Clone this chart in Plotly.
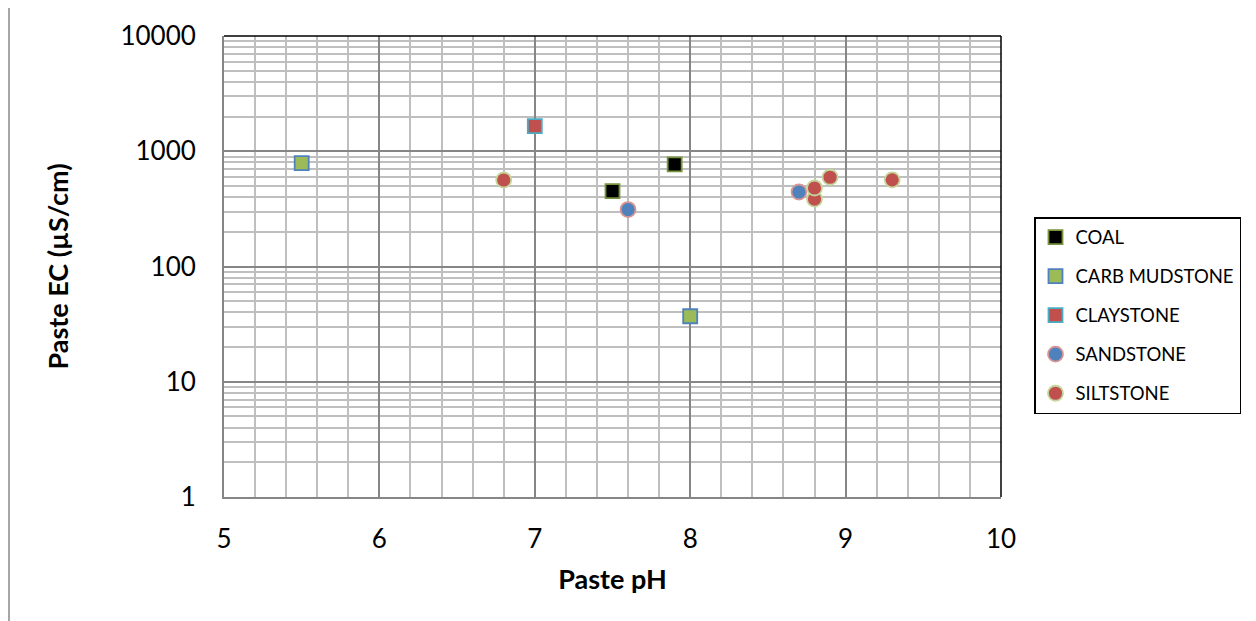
import plotly.graph_objects as go

# ---- data ----
coal_ph = [7.5, 7.9]
coal_ec = [450, 770]
carb_ph = [5.5, 8.0]
carb_ec = [790, 37]
clay_ph = [7.0]
clay_ec = [1650]
sand_ph = [7.6, 8.7]
sand_ec = [312, 443]
silt_ph = [6.8, 8.8, 8.8, 8.9, 9.3]
silt_ec = [563, 385, 480, 595, 565]

y_tickvals = [1, 10, 100, 1000, 10000]
y_ticktext = ["1", "10", "100", "1000", "10000"]
x_tickvals = [5, 6, 7, 8, 9, 10]

FONT = "Lato, 'Open Sans', sans-serif"

series = [
    ("COAL", coal_ph, coal_ec, "square", "#000000", "#77933C"),
    ("CARB MUDSTONE", carb_ph, carb_ec, "square", "#9BBB59", "#4F81BD"),
    ("CLAYSTONE", clay_ph, clay_ec, "square", "#C0504D", "#4BACC6"),
    ("SANDSTONE", sand_ph, sand_ec, "circle", "#4F81BD", "#D99694"),
    ("SILTSTONE", silt_ph, silt_ec, "circle", "#C0504D", "#C3D69B"),
]

fig = go.Figure()
for i, (name, xs, ys, sym, fill, edge) in enumerate(series):
    fig.add_trace(go.Scatter(
        x=xs, y=ys, mode="markers", name=name, legendgroup=f"g{i}",
        marker=dict(symbol=sym, size=14 if sym == "square" else 15,
                    color=fill, line=dict(color=edge, width=1.8)),
    ))

minor_y = [m * 10 ** k for k in range(4) for m in range(2, 10)]

# page body has an 8px offset; work in page coordinates minus 8
OFF = 8
W, H = 1248, 613
L, T = 224 - OFF, 36 - OFF
pw, ph = 777, 461
R, B = W - L - pw, H - T - ph


def px(xpage):
    return (xpage - OFF - L) / pw


def py(ypage):
    return (T + ph - (ypage - OFF)) / ph


fig.update_layout(
    width=W, height=H,
    margin=dict(l=L, r=R, t=T, b=B),
    paper_bgcolor="white", plot_bgcolor="white",
    font=dict(family=FONT, color="#000000"),
    showlegend=True,
    legend=dict(
        x=px(1034), y=py(217),
        xanchor="left", yanchor="top",
        bordercolor="#000000", borderwidth=1.5,
        font=dict(size=18.5, family=FONT, color="#000000"),
        tracegroupgap=12, itemwidth=30,
    ),
    xaxis=dict(
        range=[5, 10], tickvals=x_tickvals, ticks="",
        showgrid=True, gridcolor="#868686", gridwidth=1.5,
        minor=dict(dtick=0.2, showgrid=True, gridcolor="#BFBFBF", gridwidth=1.5),
        showline=True, linecolor="#868686", linewidth=2,
        zeroline=False,
        tickfont=dict(size=26, family=FONT),
        ticklabelstandoff=18,
        title=dict(text="<b>Paste pH</b>", font=dict(size=27, family=FONT), standoff=17),
    ),
    yaxis=dict(
        type="log", range=[0, 4], tickvals=y_tickvals, ticktext=y_ticktext, ticks="",
        showgrid=True, gridcolor="#868686", gridwidth=1.5,
        minor=dict(tickvals=minor_y, showgrid=True, gridcolor="#BFBFBF", gridwidth=1.5),
        showline=True, linecolor="#868686", linewidth=2,
        zeroline=False,
        tickfont=dict(size=26, family=FONT),
        ticklabelstandoff=21,
        title=dict(text="<b>Paste EC (µS/cm)</b>", font=dict(size=27, family=FONT), standoff=44),
    ),
    shapes=[
        # top and right plot borders
        dict(type="line", xref="paper", yref="paper", x0=0, x1=1, y0=1, y1=1,
             line=dict(color="#000000", width=1.5)),
        dict(type="line", xref="paper", yref="paper", x0=1, x1=1, y0=0, y1=1,
             line=dict(color="#000000", width=1.5)),
        # outer chart frame
        dict(type="line", xref="paper", yref="paper",
             x0=px(9), x1=px(9), y0=py(5), y1=py(700),
             line=dict(color="#A6A6A6", width=2)),
        dict(type="line", xref="paper", yref="paper",
             x0=px(1250), x1=px(1250), y0=py(5), y1=py(700),
             line=dict(color="#A6A6A6", width=2)),
        dict(type="line", xref="paper", yref="paper",
             x0=px(9), x1=px(1250), y0=py(5), y1=py(5),
             line=dict(color="#A6A6A6", width=2)),
    ],
)

fig.write_html("out.html")
